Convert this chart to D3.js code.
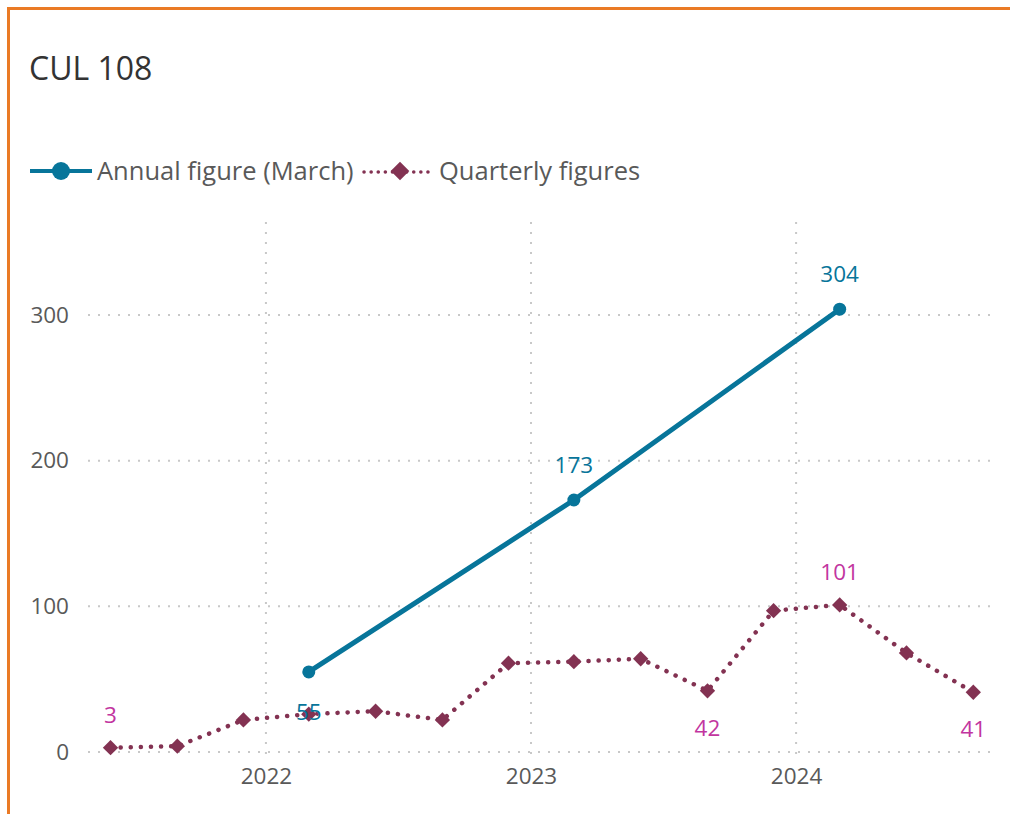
<!DOCTYPE html>
<html>
<head>
<meta charset="utf-8">
<script src="https://cdn.jsdelivr.net/npm/d3@7"></script>
<style>
  body { margin: 0; background: #fff; }
  svg text { font-family: "Open Sans", "Noto Sans", sans-serif; }
</style>
</head>
<body>
<div id="chart"></div>
<script>
// Data
const annualDates = ["2022-03-01", "2023-03-01", "2024-03-01"];
const annualValues = [55, 173, 304];
const annualLabelPos = ["below", "above", "above"];

const quarterDates = ["2021-06-01", "2021-09-01", "2021-12-01", "2022-03-01", "2022-06-01",
  "2022-09-01", "2022-12-01", "2023-03-01", "2023-06-01", "2023-09-01",
  "2023-12-01", "2024-03-01", "2024-06-01", "2024-09-01"];
const quarterValues = [3, 4, 22, 26, 28, 22, 61, 62, 64, 42, 97, 101, 68, 41];
// which quarterly points carry a label, and where
const quarterLabels = ["above", null, null, null, null, null, null, null, null, "below", null, "above", null, "below"];

const yTicks = [0, 100, 200, 300];
const xTicks = ["2022-01-01", "2023-01-01", "2024-01-01"];

const width = 1010;
const height = 814;
const annualColor = "#07759a";
const quarterColor = "#833252";
const quarterLabelColor = "#c2359f";

const parse = d3.timeParse("%Y-%m-%d");

const svg = d3.select("#chart")
    .append("svg")
    .attr("width", width)
    .attr("height", height);

// orange frame, top and left
svg.append("line")
    .attr("x1", 7).attr("x2", width)
    .attr("y1", 8.5).attr("y2", 8.5)
    .attr("stroke", "#ea7a25").attr("stroke-width", 3);
svg.append("line")
    .attr("x1", 8.5).attr("x2", 8.5)
    .attr("y1", 7).attr("y2", height)
    .attr("stroke", "#ea7a25").attr("stroke-width", 3);

svg.append("text")
    .attr("x", 29).attr("y", 80)
    .attr("font-size", 32)
    .attr("fill", "#333")
    .text("CUL 108");

const xScale = d3.scaleTime()
    .domain([parse("2021-05-01"), parse("2024-09-24")])
    .range([88, 990]);

const yScale = d3.scaleLinear()
    .domain([0, 300])
    .range([752, 315]);

// gridlines
svg.append("g")
    .selectAll("line")
    .data(yTicks)
    .join("line")
    .attr("x1", 88).attr("x2", 992)
    .attr("y1", d => yScale(d)).attr("y2", d => yScale(d))
    .attr("stroke", "#c8c8c8")
    .attr("stroke-width", 2)
    .attr("stroke-dasharray", "2,8");

svg.append("g")
    .selectAll("line")
    .data(xTicks)
    .join("line")
    .attr("x1", d => xScale(parse(d))).attr("x2", d => xScale(parse(d)))
    .attr("y1", 222).attr("y2", 760)
    .attr("stroke", "#c8c8c8")
    .attr("stroke-width", 2)
    .attr("stroke-dasharray", "2,8");

// axes labels
const yAxis = d3.axisLeft(yScale).tickValues(yTicks).tickSize(0).tickPadding(0);
svg.append("g")
    .attr("transform", "translate(69,0)")
    .call(yAxis)
    .call(g => g.select(".domain").remove())
    .call(g => g.selectAll("text")
        .attr("font-size", 22.5)
        .attr("fill", "#595959")
        .attr("font-family", "'Open Sans', sans-serif"));

const xAxis = d3.axisBottom(xScale)
    .tickValues(xTicks.map(parse))
    .tickFormat(d3.timeFormat("%Y"))
    .tickSize(0).tickPadding(0);
svg.append("g")
    .attr("transform", "translate(0,768)")
    .call(xAxis)
    .call(g => g.select(".domain").remove())
    .call(g => g.selectAll("text")
        .attr("font-size", 22.5)
        .attr("fill", "#595959")
        .attr("font-family", "'Open Sans', sans-serif"));

// quarterly series
const quarterData = quarterDates.map((d, i) => ({ date: parse(d), value: quarterValues[i], label: quarterLabels[i] }));
const annualData = annualDates.map((d, i) => ({ date: parse(d), value: annualValues[i], label: annualLabelPos[i] }));

const line = d3.line()
    .x(d => xScale(d.date))
    .y(d => yScale(d.value));

svg.append("path")
    .datum(quarterData)
    .attr("fill", "none")
    .attr("stroke", quarterColor)
    .attr("stroke-width", 4.5)
    .attr("stroke-linecap", "round")
    .attr("stroke-dasharray", "0.1,10")
    .attr("d", line);

const diamond = d3.symbol().type(d3.symbolDiamond2).size(150);
svg.append("g")
    .selectAll("path")
    .data(quarterData)
    .join("path")
    .attr("transform", d => `translate(${xScale(d.date)},${yScale(d.value)})`)
    .attr("fill", quarterColor)
    .attr("d", diamond);

// annual series
svg.append("path")
    .datum(annualData)
    .attr("fill", "none")
    .attr("stroke", annualColor)
    .attr("stroke-width", 5)
    .attr("d", line);

svg.append("g")
    .selectAll("circle")
    .data(annualData)
    .join("circle")
    .attr("cx", d => xScale(d.date))
    .attr("cy", d => yScale(d.value))
    .attr("r", 6.5)
    .attr("fill", annualColor);

// data labels
svg.append("g")
    .selectAll("text")
    .data(quarterData.filter(d => d.label))
    .join("text")
    .attr("x", d => xScale(d.date))
    .attr("y", d => yScale(d.value) + (d.label === "above" ? -25 : 45))
    .attr("text-anchor", "middle")
    .attr("font-size", 22.5)
    .attr("fill", quarterLabelColor)
    .text(d => d.value);

svg.append("g")
    .selectAll("text")
    .data(annualData)
    .join("text")
    .attr("x", d => xScale(d.date))
    .attr("y", d => yScale(d.value) + (d.label === "above" ? -27 : 48))
    .attr("text-anchor", "middle")
    .attr("font-size", 22.5)
    .attr("fill", annualColor)
    .text(d => d.value);

// legend
const legend = svg.append("g");
legend.append("line")
    .attr("x1", 30).attr("x2", 92).attr("y1", 171).attr("y2", 171)
    .attr("stroke", annualColor).attr("stroke-width", 4);
legend.append("circle")
    .attr("cx", 61).attr("cy", 171).attr("r", 9)
    .attr("fill", annualColor);
legend.append("text")
    .attr("x", 97).attr("y", 180)
    .attr("font-size", 25.5)
    .attr("fill", "#595959")
    .text("Annual figure (March)");

legend.append("line")
    .attr("x1", 364).attr("x2", 432).attr("y1", 172).attr("y2", 172)
    .attr("stroke", quarterColor).attr("stroke-width", 3.5)
    .attr("stroke-linecap", "round")
    .attr("stroke-dasharray", "0.1,7");
legend.append("path")
    .attr("transform", "translate(400,171)")
    .attr("fill", quarterColor)
    .attr("d", d3.symbol().type(d3.symbolDiamond2).size(220));
legend.append("text")
    .attr("x", 439).attr("y", 180)
    .attr("font-size", 25.5)
    .attr("fill", "#595959")
    .text("Quarterly figures");
</script>
</body>
</html>
